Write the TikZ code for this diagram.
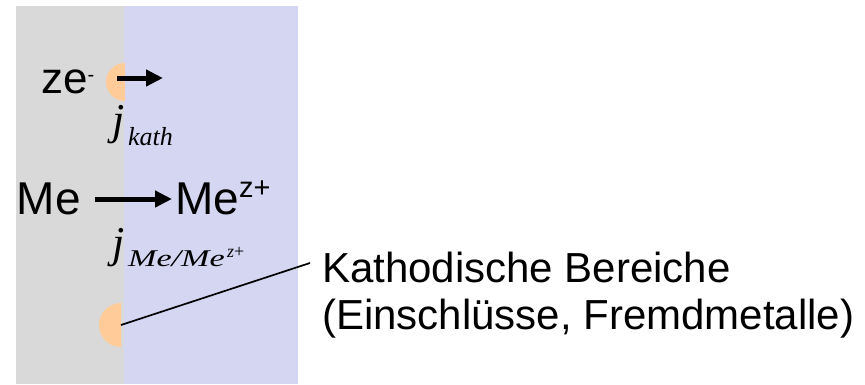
\documentclass[tikz,border=0pt]{standalone}
\usepackage{fontspec}
\setmainfont{Liberation Sans}
\newfontfamily\serifrm{Liberation Serif}
\definecolor{metalcolor}{RGB}{217,217,217}
\definecolor{solcolor}{RGB}{213,214,242}
\definecolor{inclcolor}{RGB}{255,204,153}
\usetikzlibrary{arrows.meta}

\begin{document}
\begin{tikzpicture}[x=1bp, y=-1bp,
  every node/.style={inner sep=0pt, anchor=base west},
  fatarrow/.style={line width=5bp, -{Triangle[length=17bp, width=16bp]}},
  big/.style={font=\fontsize{44bp}{44bp}\selectfont},
  label/.style={font=\fontsize{42bp}{47bp}\selectfont},
  jsym/.style={font=\fontsize{44bp}{44bp}\selectfont\serifrm\itshape},
  jsub/.style={font=\fontsize{26bp}{26bp}\selectfont\serifrm\itshape}]
  \useasboundingbox (0,0) rectangle (865,384);

  % Metal and electrolyte
  \fill[metalcolor] (16,6) rectangle (124,384);
  \fill[solcolor] (124,6) rectangle (298,384);

  % Cathodic regions
  \coordinate (incltop) at (125,82);
  \coordinate (inclbot) at (121,325);
  \fill[inclcolor] (125,63) arc[start angle=270, end angle=90, radius=19] -- cycle;
  \fill[inclcolor] (121,303) arc[start angle=270, end angle=90, radius=22] -- cycle;

  % Cathodic partial current
  \node[big] (ze) at (41,93) {ze\raisebox{12bp}{\fontsize{20bp}{20bp}\selectfont -}};
  \coordinate (zetail) at (117,78);
  \coordinate (zetip) at (163,78);
  \draw[fatarrow] (zetail) -- (zetip);
  \node[jsym] (jk) at (112,134) {j};
  \node[jsub] (jksub) at (128,145) {kath};

  % Anodic dissolution
  \node[big, font=\fontsize{46bp}{46bp}\selectfont] (me) at (16.5,214) {Me};
  \node[big, font=\fontsize{46bp}{46bp}\selectfont] (mez) at (175,214)
    {Me\raisebox{17bp}{\fontsize{29bp}{29bp}\selectfont z+}};
  \draw[fatarrow] ([xshift=14bp, yshift=15bp]me.base east) -- ([xshift=-3bp, yshift=15bp]mez.base west);
  \node[jsym] (jm) at (112,257) {j};
  \node[jsub] (jmsub) at (128,266)
    {\scalebox{1.42}[1]{\fontsize{24bp}{24bp}\selectfont Me/Me}};
  \node[jsub] (jmsup) at (227,257) {\fontsize{18bp}{18bp}\selectfont z\upshape +};

  % Label
  \node[label] (kb1) at (322,282) {Kathodische Bereiche};
  \node[label] (kb2) at (322,329) {(Einschlüsse, Fremdmetalle)};
  \coordinate (lead) at (310,263);
  \draw[line width=1.7bp] (inclbot) -- (lead);
\end{tikzpicture}
\end{document}
